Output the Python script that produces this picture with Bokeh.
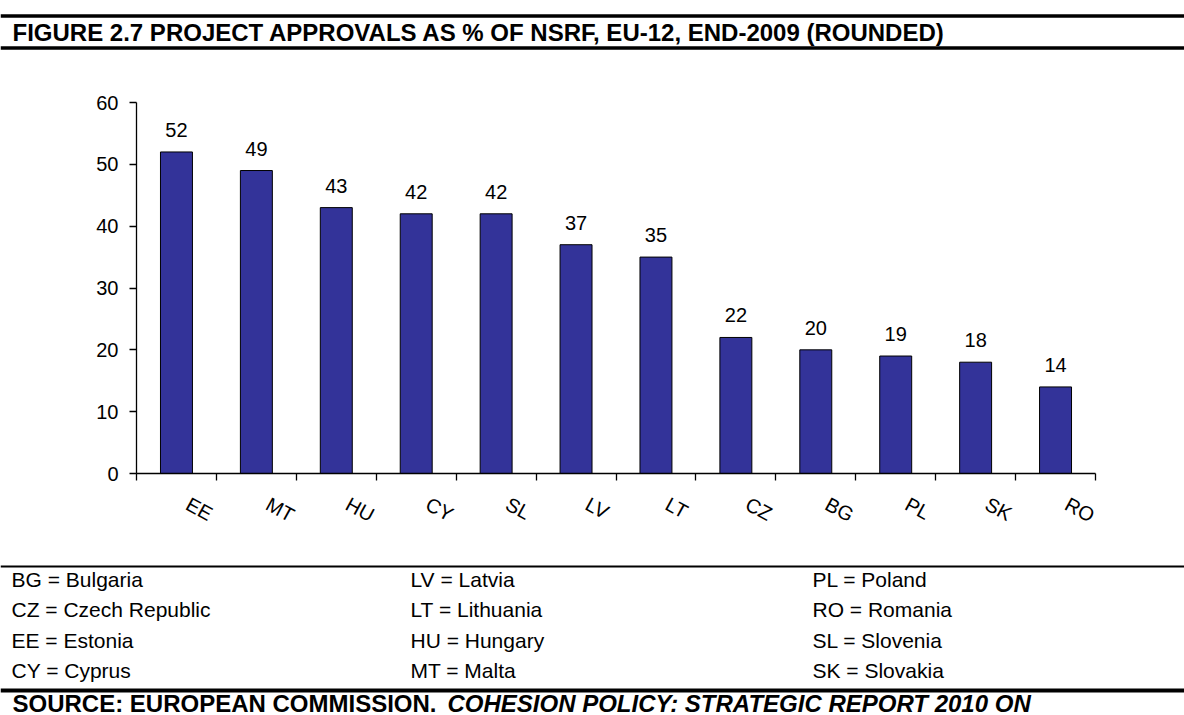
from bokeh.plotting import figure
from bokeh.layouts import column, row
from bokeh.models import Range1d, FixedTicker, ColumnDataSource
from bokeh.core.properties import value
from bokeh.embed import file_html
from bokeh.resources import INLINE

# ---- data ----
categories = ["EE", "MT", "HU", "CY", "SL", "LV", "LT", "CZ", "BG", "PL", "SK", "RO"]
values = [52, 49, 43, 42, 42, 37, 35, 22, 20, 19, 18, 14]
y_ticks = [0, 10, 20, 30, 40, 50, 60]

legend_col1 = ["BG = Bulgaria", "CZ = Czech Republic", "EE = Estonia", "CY = Cyprus"]
legend_col2 = ["LV = Latvia", "LT = Lithuania", "HU = Hungary", "MT = Malta"]
legend_col3 = ["PL = Poland", "RO = Romania", "SL = Slovenia", "SK = Slovakia"]

title_text = "FIGURE 2.7  PROJECT APPROVALS AS % OF NSRF, EU-12, END-2009 (ROUNDED)"
source_text_a = "SOURCE: EUROPEAN COMMISSION."
source_text_b = "COHESION POLICY: STRATEGIC REPORT 2010 ON"

FONT = "Liberation Sans"
BAR_COLOR = "#333399"
W = 1184


def blank_fig(h):
    f = figure(width=W, height=h, x_range=Range1d(0, W), y_range=Range1d(h, 0),
               x_axis_location=None, y_axis_location=None,
               toolbar_location=None, output_backend="svg",
               min_border=0, outline_line_color=None)
    f.grid.visible = False
    return f


# ---- header ----
H1 = 56
head = blank_fig(H1)
head.segment(x0=[0, 0], y0=[15.5, 47.5], x1=[W, W], y1=[15.5, 47.5],
             line_color="black", line_width=3.5)
head.text(x=[12], y=[32], text=[title_text], text_font=value(FONT),
          text_font_style="bold", text_font_size="24px", text_color="black",
          text_baseline="middle", text_align="left")

# ---- chart ----
H2 = 504
n = len(categories)
xc = [i + 0.5 for i in range(n)]
src = ColumnDataSource(dict(x=xc, top=values, lbl=[str(v) for v in values]))

p = figure(width=W, height=H2, x_range=Range1d(0, n), y_range=Range1d(0, 60),
           toolbar_location=None, output_backend="svg",
           min_border_left=136, min_border_right=89, min_border_top=46,
           min_border_bottom=87, outline_line_color=None)
p.grid.visible = False

p.vbar(x="x", top="top", width=0.4, bottom=0, source=src,
       fill_color=BAR_COLOR, line_color="black", line_width=1)
p.text(x="x", y="top", text="lbl", source=src, text_font=value(FONT),
       text_font_size="20px", text_color="black", text_align="center",
       text_baseline="alphabetic", y_offset=-22)

label_pos = [x + 0.14 for x in xc]
xa = p.xaxis[0]
xa.ticker = FixedTicker(ticks=label_pos, minor_ticks=list(range(n + 1)))
xa.major_label_overrides = {x: c for x, c in zip(label_pos, categories)}
xa.major_tick_out = 0
xa.major_tick_in = 0
xa.minor_tick_out = 7
xa.minor_tick_in = 0
xa.minor_tick_line_color = "black"
xa.minor_tick_line_width = 1.3
xa.axis_line_color = "black"
xa.axis_line_width = 1.3
xa.major_label_orientation = -0.5
xa.major_label_standoff = 22
xa.major_label_text_font = FONT
xa.major_label_text_font_size = "20px"
xa.major_label_text_color = "black"

ya = p.yaxis[0]
ya.ticker = FixedTicker(ticks=y_ticks)
ya.major_tick_out = 7
ya.major_tick_in = 0
ya.minor_tick_out = 0
ya.minor_tick_in = 0
ya.major_tick_line_color = "black"
ya.major_tick_line_width = 1.3
ya.axis_line_color = "black"
ya.axis_line_width = 1.3
ya.major_label_standoff = 11
ya.major_label_text_font = FONT
ya.major_label_text_font_size = "20px"
ya.major_label_text_color = "black"

# ---- legend / source ----
H3 = 155
foot = blank_fig(H3)
foot.segment(x0=[0], y0=[6], x1=[W], y1=[6], line_color="black", line_width=2)
foot.segment(x0=[0], y0=[130], x1=[W], y1=[130], line_color="black", line_width=4)
row_y = [19, 49, 79.5, 110]
for colx, items in zip([11, 410, 812], [legend_col1, legend_col2, legend_col3]):
    foot.text(x=[colx] * len(items), y=row_y[:len(items)], text=items,
              text_font=value(FONT), text_font_size="21px", text_color="black",
              text_baseline="middle", text_align="left")
foot.text(x=[12], y=[142.5], text=[source_text_a], text_font=value(FONT),
          text_font_style="bold", text_font_size="24px", text_color="black",
          text_baseline="middle", text_align="left")
foot.text(x=[447], y=[142.5], text=[source_text_b], text_font=value(FONT),
          text_font_style="bold italic", text_font_size="24px", text_color="black",
          text_baseline="middle", text_align="left")

layout = column(row(head), row(p), row(foot), spacing=0)
open("out.html", "w").write(file_html(layout, INLINE))
